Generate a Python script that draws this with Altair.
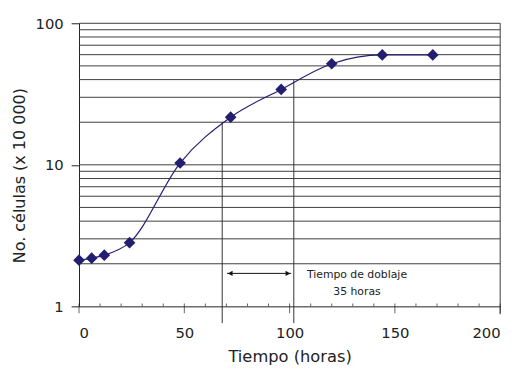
import altair as alt
import pandas as pd

# --- data ---
time_h = [0, 6, 12, 24, 48, 72, 96, 120, 144, 168]
cells = [2.12, 2.19, 2.30, 2.82, 10.3, 21.7, 34.1, 51.8, 59.8, 59.8]

grid_values = [2, 3, 4, 5, 6, 7, 8, 9, 10, 20, 30, 40, 50, 60, 70, 80, 90, 100]
x_major = [0, 50, 100, 150, 200]
x_minor = [10, 20, 30, 40, 60, 70, 80, 90, 110, 120, 130, 140, 160, 170, 180, 190]
y_labels = [1, 10, 100]

guide_x = [68, 102]
guide_top = [20, 40]
arrow_y = 1.71
arrow_ends = [70.3, 100.7]
arrow_heads = [71.8, 99.2]
arrow_shapes = ["triangle-left", "triangle-right"]
note_lines = ["Tiempo de doblaje", "35 horas"]
note_y = [1.66, 1.27]
note_x = 132

FONT = "DejaVu Sans"
NAVY = "#241e70"
INK = "#222222"
W, H = 427, 287

xs = alt.Scale(domain=[0, 200], nice=False, zero=False)
ys = alt.Scale(type="log", domain=[1, 100], nice=False)

X_AX = alt.Axis(
    title="Tiempo (horas)", values=x_major, format="d", ticks=False,
    labelPadding=20, titlePadding=8, domainColor="#222222", grid=False,
    titleFontSize=16.5,
)
Y_AX = alt.Axis(
    title="No. células (x 10 000)", values=y_labels, format="d",
    tickSize=8, tickColor="#222222", labelPadding=8, titlePadding=8,
    domainColor="#222222", grid=False, titleFontSize=16.2, titleY=154,
)


def X(f):
    return alt.X(f, scale=xs, axis=X_AX)


def Y(f):
    return alt.Y(f, scale=ys, axis=Y_AX)


df = pd.DataFrame({"t": time_h, "n": cells})

grid = alt.Chart(pd.DataFrame({"g": grid_values, "a": [0] * len(grid_values), "b": [200] * len(grid_values)})).mark_rule(
    color="#3c3c3c", strokeWidth=1
).encode(y=Y("g:Q"), x=X("a:Q"), x2="b:Q")

right_border = alt.Chart(pd.DataFrame({"x": [200], "y": [100]})).mark_rule(
    color="#3c3c3c", strokeWidth=1
).encode(x=X("x:Q"), y=Y("y:Q"), y2=alt.value(H + 8))

guides = alt.Chart(pd.DataFrame({"x": guide_x, "y": guide_top})).mark_rule(
    color="#333333", strokeWidth=1
).encode(x=X("x:Q"), y=Y("y:Q"), y2=alt.value(H + 17))

major_ticks = alt.Chart(pd.DataFrame({"x": x_major, "y": [1] * len(x_major)})).mark_tick(
    color="#222222", orient="vertical", size=10, thickness=1, yOffset=2
).encode(x=X("x:Q"), y=Y("y:Q"))

minor_ticks = alt.Chart(pd.DataFrame({"x": x_minor, "y": [1] * len(x_minor)})).mark_tick(
    color="#222222", orient="vertical", size=3, thickness=1, yOffset=-1.5
).encode(x=X("x:Q"), y=Y("y:Q"))

arrow_line = alt.Chart(pd.DataFrame({"x": [arrow_ends[0]], "x2": [arrow_ends[1]], "y": [arrow_y]})).mark_rule(
    color="#111111", strokeWidth=1
).encode(x=X("x:Q"), x2="x2:Q", y=Y("y:Q"))

arrow_tips = alt.Chart(pd.DataFrame({"x": arrow_heads, "y": [arrow_y] * 2, "s": arrow_shapes})).mark_point(
    filled=True, color="#111111", size=30, opacity=1
).encode(
    x=X("x:Q"), y=Y("y:Q"),
    shape=alt.Shape("s:N", scale=None, legend=None),
)

notes = alt.Chart(pd.DataFrame({"x": [note_x] * 2, "y": note_y, "t": note_lines})).mark_text(
    font=FONT, fontSize=11, color=INK, align="center", baseline="middle"
).encode(x=X("x:Q"), y=Y("y:Q"), text="t:N")

curve = alt.Chart(df).mark_line(
    color=NAVY, strokeWidth=1.2, interpolate="monotone"
).encode(x=X("t:Q"), y=Y("n:Q"))

points = alt.Chart(df).mark_point(
    shape="diamond", filled=True, color=NAVY, size=140, opacity=1
).encode(x=X("t:Q"), y=Y("n:Q"))

chart = alt.layer(
    grid, right_border, guides, major_ticks, minor_ticks,
    arrow_line, arrow_tips, notes, curve, points,
).properties(
    width=W, height=H,
    autosize=alt.AutoSizeParams(type="none"),
    padding={"left": 72, "top": 13, "right": 13, "bottom": 60},
).configure_view(
    stroke=None
).configure_axis(
    labelFont=FONT, titleFont=FONT, labelFontSize=15,
    labelColor=INK, titleColor=INK, titleFontWeight="normal", grid=False,
    domainWidth=1, tickWidth=1,
)

chart.save("out.html", embed_options={"renderer": "svg", "actions": False})
